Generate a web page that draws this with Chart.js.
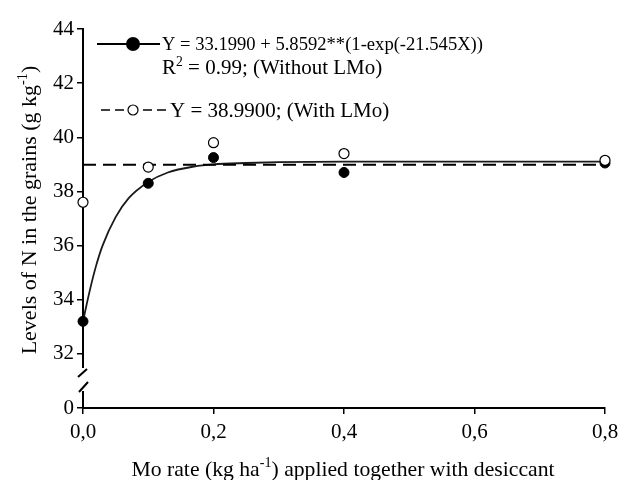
<!DOCTYPE html>
<html>
<head>
<meta charset="utf-8">
<script src="https://cdn.jsdelivr.net/npm/chart.js@4/dist/chart.umd.min.js"></script>
<style>
    body { margin: 0; background: #fff; }
    #wrap { width: 626px; height: 480px; position: relative; }
</style>
</head>
<body>
<div id="wrap"><canvas id="nChart"></canvas></div>
<script>
// Mo rates (kg/ha) and N levels in grains (g/kg)
const moRates = [0, 0.1, 0.2, 0.4, 0.8];
const withoutLMo = [33.2, 38.3, 39.25, 38.7, 39.05];
const withLMo = [37.6, 38.9, 39.8, 39.4, 39.15];

// fitted curve (without LMo)
const curveX = [0, 0.01, 0.02, 0.03, 0.05, 0.07, 0.1, 0.13, 0.17, 0.2, 0.25, 0.3, 0.4, 0.6, 0.8];
const curveY = [33.2, 34.3, 35.25, 36.0, 37.05, 37.75, 38.35, 38.7, 38.92, 39.0, 39.05, 39.08, 39.1, 39.1, 39.1];

// mean line (with LMo)
const meanX = [0, 0.8];
const meanY = [38.99, 38.99];

// axis ticks; the bottom tick (30 on the plot scale) is shown as 0 after the break
const yTicks = [30, 32, 34, 36, 38, 40, 42, 44];
const xTicks = [0, 0.2, 0.4, 0.6, 0.8];

const FONT = '"Liberation Serif", "Times New Roman", serif';

function toPoints(xs, ys) {
    return xs.map((x, i) => ({ x: x, y: ys[i] }));
}

// draw text made of parts, some of them superscript
function drawRich(ctx, parts, x, y, size, align) {
    let total = 0;
    parts.forEach(p => {
        ctx.font = (p.sup ? size * 0.65 : size) + 'px ' + FONT;
        total += ctx.measureText(p.t).width;
    });
    let cx = align === 'center' ? x - total / 2 : x;
    ctx.textAlign = 'left';
    ctx.textBaseline = 'alphabetic';
    parts.forEach(p => {
        ctx.font = (p.sup ? size * 0.65 : size) + 'px ' + FONT;
        ctx.fillText(p.t, cx, p.sup ? y - size * 0.4 : y);
        cx += ctx.measureText(p.t).width;
    });
}

const decorPlugin = {
    id: 'decor',
    afterDraw(chart) {
        const ctx = chart.ctx;
        const area = chart.chartArea;
        ctx.save();

        // axis break
        ctx.fillStyle = '#fff';
        ctx.fillRect(area.left - 3, 368, 6, 23);
        ctx.strokeStyle = '#000';
        ctx.lineWidth = 2;
        ctx.beginPath();
        ctx.moveTo(area.left - 5, 377);
        ctx.lineTo(area.left + 4, 369);
        ctx.moveTo(area.left - 4, 392);
        ctx.lineTo(area.left + 5, 382);
        ctx.stroke();

        // axis titles
        ctx.fillStyle = '#000';
        drawRich(ctx, [
            { t: 'Mo rate (kg ha' }, { t: '-1', sup: true },
            { t: ') applied together with desiccant' }
        ], 343, 476, 21.7, 'center');

        ctx.save();
        ctx.translate(36, 210);
        ctx.rotate(-Math.PI / 2);
        drawRich(ctx, [
            { t: 'Levels of N in the grains (g kg' }, { t: '-1', sup: true }, { t: ')' }
        ], 0, 0, 22, 'center');
        ctx.restore();

        // legend
        ctx.strokeStyle = '#000';
        ctx.lineWidth = 2;
        ctx.setLineDash([]);
        ctx.beginPath();
        ctx.moveTo(97, 44);
        ctx.lineTo(160, 44);
        ctx.stroke();
        ctx.beginPath();
        ctx.arc(133, 44, 7, 0, Math.PI * 2);
        ctx.fill();
        drawRich(ctx, [{ t: 'Y = 33.1990 + 5.8592**(1-exp(-21.545X))' }], 162, 50, 18.6);
        drawRich(ctx, [{ t: 'R' }, { t: '2', sup: true }, { t: ' = 0.99; (Without LMo)' }], 162, 74, 21);

        ctx.setLineDash([9, 5]);
        ctx.lineWidth = 1.5;
        ctx.beginPath();
        ctx.moveTo(101, 110);
        ctx.lineTo(166, 110);
        ctx.stroke();
        ctx.setLineDash([]);
        ctx.fillStyle = '#fff';
        ctx.beginPath();
        ctx.arc(133, 110, 5, 0, Math.PI * 2);
        ctx.fill();
        ctx.lineWidth = 1.2;
        ctx.stroke();
        ctx.fillStyle = '#000';
        drawRich(ctx, [{ t: 'Y = 38.9900; (With LMo)' }], 170, 117, 21);
        ctx.restore();
    }
};

new Chart(document.getElementById('nChart'), {
    type: 'scatter',
    data: {
        datasets: [
            {
                label: 'With LMo',
                data: toPoints(moRates, withLMo),
                showLine: false,
                pointRadius: 5,
                pointBackgroundColor: '#fff',
                pointBorderColor: '#000',
                pointBorderWidth: 1.2,
                order: 0
            },
            {
                label: 'Without LMo',
                data: toPoints(moRates, withoutLMo),
                showLine: false,
                pointRadius: 5,
                pointBackgroundColor: '#000',
                pointBorderColor: '#000',
                pointBorderWidth: 1,
                order: 1
            },
            {
                label: 'Mean with LMo',
                data: toPoints(meanX, meanY),
                showLine: true,
                pointRadius: 0,
                borderColor: '#000',
                borderWidth: 2,
                borderDash: [13, 7],
                order: 2
            },
            {
                label: 'Fit without LMo',
                data: toPoints(curveX, curveY),
                showLine: true,
                pointRadius: 0,
                borderColor: '#1a1a1a',
                borderWidth: 1.8,
                cubicInterpolationMode: 'monotone',
                order: 3
            }
        ]
    },
    options: {
        responsive: true,
        maintainAspectRatio: false,
        animation: false,
        clip: false,
        layout: { padding: { left: 0, right: 21, top: 29, bottom: 0 } },
        plugins: {
            legend: { display: false },
            tooltip: { enabled: false }
        },
        scales: {
            x: {
                type: 'linear',
                min: 0,
                max: 0.8,
                afterBuildTicks: axis => { axis.ticks = xTicks.map(v => ({ value: v })); },
                afterFit: axis => { axis.height = 72; },
                border: { display: true, color: '#000', width: 2 },
                grid: { drawOnChartArea: false, drawTicks: true, tickLength: 6, color: '#000', lineWidth: 1.5 },
                ticks: {
                    color: '#000',
                    padding: 6,
                    font: { family: FONT, size: 21 },
                    callback: v => v.toFixed(1).replace('.', ',')
                }
            },
            y: {
                min: 30,
                max: 44,
                afterBuildTicks: axis => { axis.ticks = yTicks.map(v => ({ value: v })); },
                afterFit: axis => { axis.width = 83; },
                border: { display: true, color: '#000', width: 2 },
                grid: { drawOnChartArea: false, drawTicks: true, tickLength: 6, color: '#000', lineWidth: 1.5 },
                ticks: {
                    color: '#000',
                    padding: 3,
                    font: { family: FONT, size: 21 },
                    callback: v => (v === 30 ? '0' : String(v))
                }
            }
        }
    },
    plugins: [decorPlugin]
});
</script>
</body>
</html>
